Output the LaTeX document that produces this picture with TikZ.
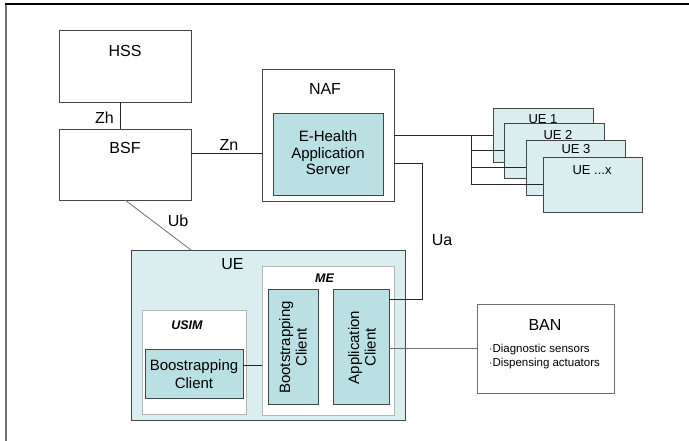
\documentclass[tikz,border=0pt]{standalone}
\usepackage{fontspec}
\setmainfont{Liberation Sans}
\usetikzlibrary{calc}
\definecolor{tealdark}{HTML}{BBE0E3}
\definecolor{teallight}{HTML}{DAEEF0}
\definecolor{edgedark}{HTML}{454545}
\definecolor{edgemid}{HTML}{707070}
\definecolor{edgelight}{HTML}{B4B4B4}
\begin{document}
\begin{tikzpicture}[x=1pt,y=-1pt,
  box/.style={draw=edgedark, line width=0.8pt, fill=white, inner sep=0pt, outer sep=0pt},
  darkbox/.style={box, fill=tealdark},
  lightbox/.style={box, fill=teallight},
  paperbox/.style={draw=edgelight, line width=0.8pt, fill=white, inner sep=0pt, outer sep=0pt},
  big/.style={font=\fontsize{16}{18}\selectfont, inner sep=0pt},
  mid/.style={font=\fontsize{15}{16.5}\selectfont, inner sep=0pt, align=center},
  small/.style={font=\fontsize{13}{15}\selectfont, inner sep=0pt},
  tiny/.style={font=\fontsize{11.5}{14}\selectfont, inner sep=0pt, align=left},
  tag/.style={font=\bfseries\itshape\fontsize{12.5}{14}\selectfont, inner sep=0pt},
  conn/.style={draw=black!85, line width=0.8pt},
  grayconn/.style={draw=edgemid, line width=0.8pt}
]
\useasboundingbox (0,0) rectangle (689,441);
% frame
\draw[edgemid, line width=1.5pt] (6,441) -- (6,4);
\draw[black, line width=1.8pt] (5.2,4) -- (689,4);

% top-left boxes
\node[box, minimum width=132pt, minimum height=72pt] (hss) at (125,66) {};
\node[big] (hsst) at (125,51) {HSS};
\node[box, minimum width=132pt, minimum height=71pt] (bsf) at (125,164.5) {};
\node[big] (bsft) at (125,148) {BSF};

% NAF
\node[box, minimum width=132pt, minimum height=132pt] (naf) at (328,135) {};
\node[big] (naft) at (325,89) {NAF};
\node[darkbox, minimum width=110pt, minimum height=82pt] (ehs) at (328,154) {};
\node[mid] (ehst) at (328,153) {E-Health\\Application\\Server};

% UE stack
\node[lightbox, minimum width=100pt, minimum height=54pt] (ue1) at (543,135) {};
\node[small] (ue1t) at (543,119) {UE 1};
\node[lightbox, minimum width=100pt, minimum height=55pt] (ue2) at (554,150.5) {};
\node[small] (ue2t) at (558,135.5) {UE 2};
\node[lightbox, minimum width=99pt, minimum height=55pt] (ue3) at (575.5,167.5) {};
\node[small] (ue3t) at (576,149.5) {UE 3};
\node[lightbox, minimum width=99pt, minimum height=55pt] (uex) at (592.5,184.5) {};
\node[small] (uext) at (592,170) {UE ...x};

% UE
\node[lightbox, draw=edgedark, minimum width=274pt, minimum height=170pt] (ue) at (268,335) {};
\node[big] (uet) at (232.5,264.5) {UE};
\node[paperbox, minimum width=132pt, minimum height=149pt] (me) at (328,340.5) {};
\node[tag] (met) at (324.5,278) {ME};
\node[paperbox, minimum width=104pt, minimum height=104pt] (usim) at (194,362) {};
\node[tag] (usimt) at (187,325.5) {USIM};
\node[darkbox, minimum width=98pt, minimum height=49pt] (bsc) at (194,373.5) {};
\node[mid, font=\fontsize{15}{18}\selectfont] (bsct) at (194,374) {Boostrapping\\Client};
\node[darkbox, minimum width=50pt, minimum height=115pt] (bsr) at (293,346.5) {};
\node[mid, rotate=90] (bsrt) at (293,347.5) {Bootstrapping\\Client};
\node[darkbox, minimum width=56pt, minimum height=115pt] (appc) at (361,346.5) {};
\node[mid, rotate=90] (appct) at (362,347.5) {Application\\Client};

% BAN
\node[box, draw=edgemid, minimum width=137pt, minimum height=89pt] (ban) at (545.5,348.5) {};
\node[big] (bant) at (545,325) {BAN};
\node[tiny, anchor=west] (banl) at (489,357) {$\cdot$Diagnostic sensors\\$\cdot$Dispensing actuators};

% connectors
\draw[conn] ([xshift=-5pt]hss.south) -- ([xshift=-5pt]bsf.north);
\node[big] (zh) at (104.5,118) {Zh};
\draw[conn] ([yshift=11.5pt]bsf.east) -- ([yshift=11.5pt]bsf.east -| naf.west);
\node[big] (zn) at (229,145) {Zn};
\draw[grayconn] (bsf.south) -- ([xshift=60pt]ue.north west);
\node[big] (ub) at (178,221) {Ub};

\coordinate (bus) at (471,135);
\draw[conn] (naf.east) -- (naf.east -| ue1.west);
\draw[conn] (bus) -- (bus |- uex.west);
\draw[conn] (bus |- ue2.west) -- (ue2.west);
\draw[conn] (bus |- ue3.west) -- (ue3.west);
\draw[conn] (bus |- uex.west) -- (uex.west);

\coordinate (uax) at (422,0);
\coordinate (uaS) at ([yshift=-28pt]naf.east);
\coordinate (uaE) at ([yshift=47.5pt]appc.east);
\draw[conn] (uaS) -| (uaE -| uax) -- (uaE);
\node[big] (ua) at (442,240) {Ua};

\draw[grayconn] (ban.west -| appc.east) -- (ban.west);
\draw[conn] ([yshift=8.5pt]bsc.east) -- ([yshift=8.5pt]bsc.east -| me.west);
\end{tikzpicture}
\end{document}
